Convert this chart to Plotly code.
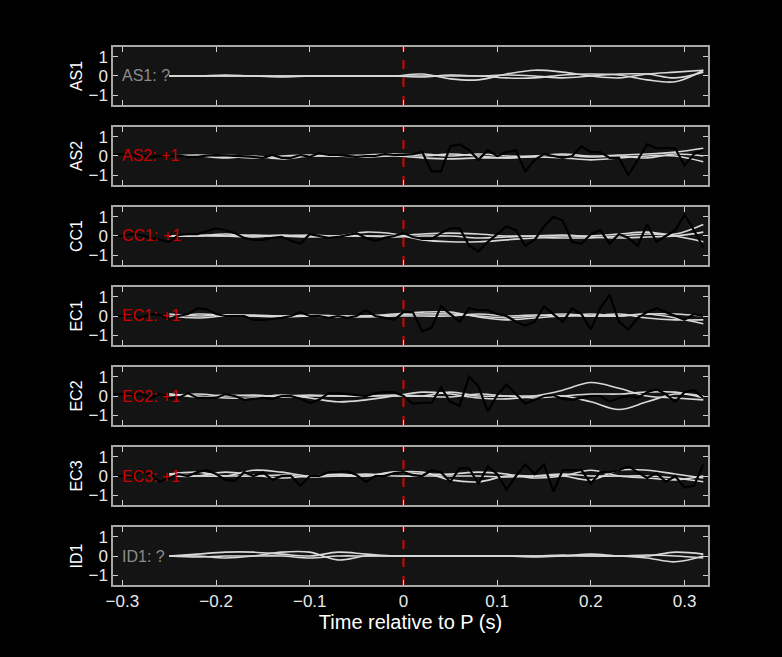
import numpy as np
import plotly.graph_objects as go
from plotly.subplots import make_subplots

stations = ["AS1", "AS2", "CC1", "EC1", "EC2", "EC3", "ID1"]
labels = ["AS1: ?", "AS2: +1", "CC1: +1", "EC1: +1", "EC2: +1", "EC3: +1", "ID1: ?"]
label_colors = ["#8c8c8c", "#cc0000", "#cc0000", "#cc0000", "#cc0000", "#cc0000", "#8c8c8c"]
x_ticks = [-0.3, -0.2, -0.1, 0, 0.1, 0.2, 0.3]
y_ticks = [-1, 0, 1]

t_black = [round(-0.31 + 0.01 * i, 2) for i in range(64)]
black = {
    "AS2": [0.1, 0.1, 0.05, 0, -0.05, 0, 0, 0.02, -0.05, -0.05, 0.02, 0.05, 0.03, 0, 0, -0.05, -0.1, 0.05, -0.1, -0.1,
            0.05, -0.05, 0.15, 0.05, 0.05, 0, -0.05, 0, 0, 0.1, 0.05, 0.05,
            0.1, 0.2, -0.8, -0.8, 0.5, 0.6, 0.3, -0.2, 0.3, 0, 0.2, 0.3, -0.8, -0.2, 0.1, 0, -0.1, 0, 0.5, 0.2, 0.2,
            -0.1, -0.1, -1.0, -0.2, 0.6, 0.4, 0.4, 0.4, -0.5, 0.1, 0.3],
    "CC1": [0.0, 0.0, 0.1, 0.05, -0.1, -0.2, -0.3, 0.05, 0.1, 0.1, 0.25, 0.4, 0.3, 0.15, -0.1, -0.2, -0.2, -0.1, -0.05,
            -0.25, -0.4, 0.1, 0.0, -0.1, -0.05, 0.05, 0.15, -0.1, -0.25, -0.1, 0.0, 0.15,
            -0.05, -0.15, -0.15, 0.15, 0.4, 0.4, -0.5, -0.8, -0.3, 0.1, 0.5, 0.3, -0.5, -0.2, 0.5, 1.0, 0.8, -0.3,
            -0.4, 0.1, 0.3, -0.4, 0.1, -0.1, -0.5, 0.6, -0.3, 0.0, 0.3, 1.1, 0.3, -0.6],
    "EC1": [0.0, 0.0, 0.05, -0.1, 0.1, 0.05, -0.15, 0.0, 0.1, 0.4, 0.35, 0.1, 0.0, 0.0, 0.0, -0.2, -0.2, -0.15, -0.1, 0.0,
            0.2, 0.0, 0.0, -0.1, 0.0, -0.1, 0.0, 0.3, 0.0, -0.1, -0.2, 0.2,
            0.2, -0.8, -0.6, 0.5, 0.1, -0.3, 0.4, 0.3, 0.3, 0.1, 0.0, -0.3, -0.5, -0.3, 0.5, 0.1, -0.3, 0.4, 0.1,
            -0.7, 0.4, 1.1, -0.3, -0.7, -0.1, 0.2, 0.4, 0.2, 0.0, -0.2, 0.1, 0.0],
    "EC2": [0.1, 0.1, 0.05, 0.1, -0.1, 0.1, -0.1, -0.1, 0.15, -0.1, -0.1, -0.1, 0.1, 0.0, -0.2, -0.15, -0.1, -0.15, 0.0,
            0.0, -0.15, -0.35, -0.2, 0.15, 0.15, 0.1, 0.05, 0.0, 0.15, 0.2, 0.2, 0.0,
            -0.4, -0.35, -0.35, 0.45, -0.3, -0.5, 1.0, 0.5, -0.8, 0.05, 0.6, 0.1, -0.4, -0.2, 0.0, 0.05, -0.15,
            -0.2, -0.1, 0.0, 0.0, -0.3, -0.1, 0.0, -0.1, 0.2, 0.35, 0.1, -0.3, 0.2, 0.3, -0.1],
    "EC3": [0.0, 0.0, -0.05, 0.3, 0.05, -0.3, -0.1, 0.1, 0.0, 0.2, 0.3, 0.1, -0.2, -0.25, 0.2, 0.0, 0.2, -0.2, 0.0, 0.0,
            -0.5, 0.0, 0.0, 0.2, 0.2, 0.25, 0.05, -0.3, 0.0, 0.0, 0.15, 0.2,
            0.05, 0.0, 0.3, 0.2, -0.3, 0.4, 0.4, -0.4, 0.5, 0.1, -0.7, 0.0, 0.6, 0.1, 0.6, -0.8, 0.3, 0.3, 0.3,
            -0.4, 0.2, 0.2, 0.3, 0.5, 0.2, -0.1, 0.15, -0.3, 0.0, -0.6, -0.5, 0.6],
}

t_gray = [round(-0.25 + 0.03 * i, 2) for i in range(20)]
gray = {
    "AS1": [[0, 0, 0, 0, 0, 0, 0, 0, 0, 0.1, -0.15, -0.2, 0.1, 0.3, 0.2, 0.0, -0.1, 0.1, 0.2, 0.3],
            [0, 0, 0.05, 0, 0, 0, 0, 0, 0, -0.05, 0.05, 0.0, 0.05, 0.0, -0.1, 0.0, 0.1, 0.1, -0.1, 0.2],
            [0, 0, 0, 0, -0.05, 0, 0, 0, 0, 0, 0, 0, -0.1, -0.1, 0.05, 0.1, 0.05, -0.2, -0.3, 0.3]],
    "AS2": [[0.0, 0.0, -0.1, 0.0, -0.15, 0.0, 0.0, 0.0, 0.05, 0.1, 0.0, 0.1, 0.0, 0.0, 0.1, 0.0, 0.05, 0.1, 0.2, 0.4],
            [0.0, 0.05, 0.0, -0.1, 0.0, 0.05, 0.0, -0.05, 0.0, -0.1, -0.15, -0.1, -0.1, -0.05, -0.1, -0.2, -0.1, 0.0, 0.0, -0.3],
            [0.0, 0.0, 0.05, -0.05, -0.05, 0.0, 0.0, 0.05, 0.1, 0.0, 0.1, 0.0, -0.1, 0.0, 0.05, -0.05, 0.0, -0.1, 0.1, 0.0]],
    "CC1": [[0.0, 0.0, 0.1, 0.0, 0.0, 0.05, 0.0, 0.2, 0.1, -0.2, -0.3, -0.3, -0.2, -0.1, -0.1, -0.1, 0.0, 0.1, 0.1, 0.6],
            [0.0, 0.05, 0.0, -0.05, 0.05, 0.0, 0.0, 0.0, 0.0, 0.1, 0.15, 0.1, 0.0, 0.0, 0.0, 0.0, 0.1, 0.2, 0.0, -0.3],
            [0.0, 0.0, 0.0, 0.05, 0.0, -0.05, 0.0, 0.0, -0.05, 0.0, 0.0, -0.1, -0.05, 0.0, 0.05, -0.05, -0.1, -0.05, 0.0, 0.2]],
    "EC1": [[-0.1, 0.1, 0.05, 0.05, 0.0, 0.0, -0.05, 0.0, 0.05, 0.1, 0.1, 0.0, -0.1, 0.0, 0.1, 0.0, 0.0, 0.1, -0.1, -0.4],
            [0.1, 0.0, 0.05, 0.0, -0.05, 0.0, 0.0, 0.0, 0.1, 0.2, 0.2, -0.05, -0.2, -0.1, 0.0, 0.0, 0.1, -0.1, -0.2, -0.2],
            [0.0, -0.1, 0.0, 0.0, 0.0, 0.05, 0.0, -0.05, 0.0, 0.0, 0.0, 0.1, 0.0, 0.05, 0.0, 0.1, 0.0, 0.1, 0.1, 0.0]],
    "EC2": [[0.1, 0.0, -0.1, -0.1, 0.05, -0.1, -0.3, -0.2, 0.0, 0.2, 0.1, -0.1, -0.15, 0.0, 0.3, 0.7, 0.4, 0.0, -0.1, -0.2],
            [0.0, 0.1, 0.0, 0.05, -0.05, 0.0, 0.0, 0.0, 0.0, 0.0, 0.2, 0.0, 0.0, 0.0, 0.0, -0.3, -0.7, -0.3, 0.1, 0.0],
            [0.1, -0.05, 0.05, 0.0, 0.0, 0.05, 0.0, 0.0, 0.05, 0.0, -0.05, 0.1, 0.0, -0.1, 0.0, 0.1, 0.1, 0.2, 0.2, -0.1]],
    "EC3": [[0.1, 0.2, 0.0, 0.3, 0.2, 0.0, 0.1, 0.0, 0.2, 0.2, -0.2, -0.3, 0.0, 0.0, 0.0, -0.2, 0.3, 0.3, 0.1, -0.1],
            [0.0, 0.0, 0.2, 0.05, -0.1, 0.0, 0.0, 0.0, 0.2, 0.1, 0.1, 0.2, 0.1, -0.1, 0.0, 0.3, 0.0, -0.1, -0.2, 0.0],
            [0.1, 0.0, 0.0, 0.0, 0.05, -0.05, 0.0, 0.1, 0.0, 0.0, 0.0, 0.0, -0.05, 0.0, 0.1, 0.0, 0.0, 0.0, -0.1, -0.3]],
    "ID1": [[0.0, 0.1, 0.2, 0.2, 0.1, 0.0, 0.2, 0.1, 0.0, 0.0, 0.0, 0.0, 0.0, 0.0, 0.0, 0.1, 0.0, 0.0, 0.2, 0.1],
            [0.0, 0.0, -0.1, 0.0, 0.2, 0.2, -0.2, 0.0, 0.0, 0.0, 0.0, 0.0, 0.0, -0.05, 0.0, 0.0, 0.0, -0.1, -0.3, 0.0],
            [0.0, -0.05, 0.0, 0.0, 0.0, -0.1, 0.0, 0.0, 0.0, 0.0, 0.0, 0.0, 0.0, 0.0, 0.05, 0.0, 0.0, 0.05, 0.0, -0.1]],
}

fig = make_subplots(rows=7, cols=1, shared_xaxes=True, vertical_spacing=0.041)
for i, st in enumerate(stations):
    r = i + 1
    for g in gray[st]:
        fig.add_trace(go.Scatter(x=t_gray, y=g, mode="lines", line=dict(color="#d8d8d8", width=1.6, shape="spline"),
                                 showlegend=False, hoverinfo="skip"), row=r, col=1)
    if st in black:
        fig.add_trace(go.Scatter(x=t_black, y=black[st], mode="lines", line=dict(color="#000000", width=2.2),
                                 showlegend=False), row=r, col=1)
    fig.add_trace(go.Scatter(x=[0, 0], y=[-1.5, 1.5], mode="lines", line=dict(color="#e00000", width=2, dash="dash"),
                             showlegend=False), row=r, col=1)
    yref = "y domain" if r == 1 else f"y{r} domain"
    xref = "x" if r == 1 else f"x{r}"
    fig.add_annotation(x=-0.303, y=0.5, xref=xref, yref=yref, text=labels[i], showarrow=False, xanchor="left",
                       font=dict(color=label_colors[i], size=16, family="Liberation Sans"))
    fig.update_yaxes(title_text=st, range=[-1.5, 1.5], tickvals=y_ticks, row=r, col=1)

ax = dict(showline=True, linecolor="#a8a8a8", linewidth=1.5, mirror="ticks", ticks="inside", ticklen=5,
          tickcolor="#d0d0d0", showgrid=False, zeroline=False, tickfont=dict(color="#e8e8e8", size=17))
fig.update_xaxes(range=[-0.31, 0.325], tickvals=x_ticks, **ax)
fig.update_xaxes(showticklabels=True, row=7, col=1, title_text="Time relative to P (s)",
                 title_font=dict(color="#ffffff", size=20), title_standoff=4)
fig.update_yaxes(title_font=dict(color="#ffffff", size=16), title_standoff=2, **ax)
fig.update_layout(width=782, height=657, paper_bgcolor="#000000", plot_bgcolor="#141414",
                  margin=dict(l=113, r=74, t=47, b=72), font=dict(family="Liberation Sans"))
fig.write_html("out.html", config={"displayModeBar": False},
               post_script="document.body.style.margin='0';document.body.style.background='#000';")
